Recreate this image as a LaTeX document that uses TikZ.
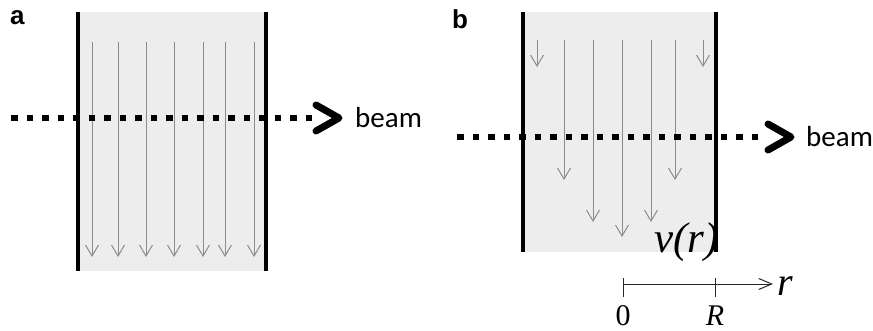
\documentclass[tikz,border=0pt]{standalone}
\usepackage{fontspec}
\setmainfont{Liberation Serif}
\newfontfamily\seriffam{Liberation Serif}
\newfontfamily\calib{Carlito}
\newfontfamily\arialfam{Liberation Sans}
\usetikzlibrary{arrows.meta}

\begin{document}
\begin{tikzpicture}[x=1pt,y=-1pt,
  wall/.style={line width=4pt},
  cell/.style={fill=black!7, draw=none},
  flow/.style={draw=black!45, line width=1pt, -{Straight Barb[length=11pt,width=13pt]}},
  beamline/.style={line width=6.5pt, dash pattern=on 6.5pt off 9pt},
  chev/.style={line width=7pt, line cap=round, line join=round},
  beamlbl/.style={font=\calib\fontsize{29}{29}\selectfont, anchor=base west, inner sep=0pt},
  panel/.style={font=\arialfam\bfseries\fontsize{26}{26}\selectfont, anchor=base west, inner sep=0pt},
  axis/.style={draw=black!85, line width=1pt},
  mathlbl/.style={inner sep=0pt},
]
\useasboundingbox (0,0) rectangle (873,331);

% ---------- panel a: uniform flow ----------
\node[panel] (pa) at (10,25) {a};
\fill[cell] (78,12) rectangle (266,271);
\coordinate (aLt) at (78,12);  \coordinate (aLb) at (78,271);
\coordinate (aRt) at (266,12); \coordinate (aRb) at (266,271);
\draw[wall] (aLt) -- (aLb);
\draw[wall] (aRt) -- (aRb);
\foreach \x in {92,118,146,174,203,225,254}
  \draw[flow] (\x,42) -- (\x,257);
\coordinate (aBs) at (11,118);
\coordinate (aBe) at (312,118);
\draw[beamline] (aBs) -- (aBe);
\draw[chev] (316,105) -- (339,118) -- (316,131);
\node[beamlbl] (beamA) at (355,128) {beam};

% ---------- panel b: flow profile v(r) ----------
\node[panel] (pb) at (452,29) {b};
\fill[cell] (522,12) rectangle (717,252);
\coordinate (bLt) at (523,12);  \coordinate (bLb) at (523,252);
\coordinate (bRt) at (716,12);  \coordinate (bRb) at (716,252);
\draw[wall] (bLt) -- (bLb);
\draw[wall] (bRt) -- (bRb);
\foreach \x/\y in {537/67,564/180,593/222,622/237,651/222,675/180,703/67}
  \draw[flow] (\x,40) -- (\x,\y);
\coordinate (bBs) at (457,137);
\coordinate (bBe) at (762,137);
\draw[beamline] (bBs) -- (bBe);
\draw[chev] (768,124) -- (791,137) -- (768,150);
\node[beamlbl] (beamB) at (806,147) {beam};

\node[mathlbl, anchor=base east, font=\seriffam\itshape\fontsize{43}{43}\selectfont] (vr) at (719,252) {v(r)};

% radial axis
\coordinate (r0) at (623,284);
\coordinate (rR) at (715,284);
\coordinate (rEnd) at (773,284);
\draw[axis, -{Straight Barb[length=13pt,width=11pt]}] (r0) -- (rEnd);
\draw[axis] (623,278) -- (623,297);
\draw[axis] (715,278) -- (715,297);
\node[mathlbl, anchor=base west, font=\seriffam\itshape\fontsize{40}{40}\selectfont] (rl) at (777,295) {r};
\node[mathlbl, anchor=base, font=\seriffam\fontsize{30}{30}\selectfont] (zero) at (623,325) {0};
\node[mathlbl, anchor=base, font=\seriffam\itshape\fontsize{30}{30}\selectfont] (Rl) at (715,325) {R};
\end{tikzpicture}
\end{document}
